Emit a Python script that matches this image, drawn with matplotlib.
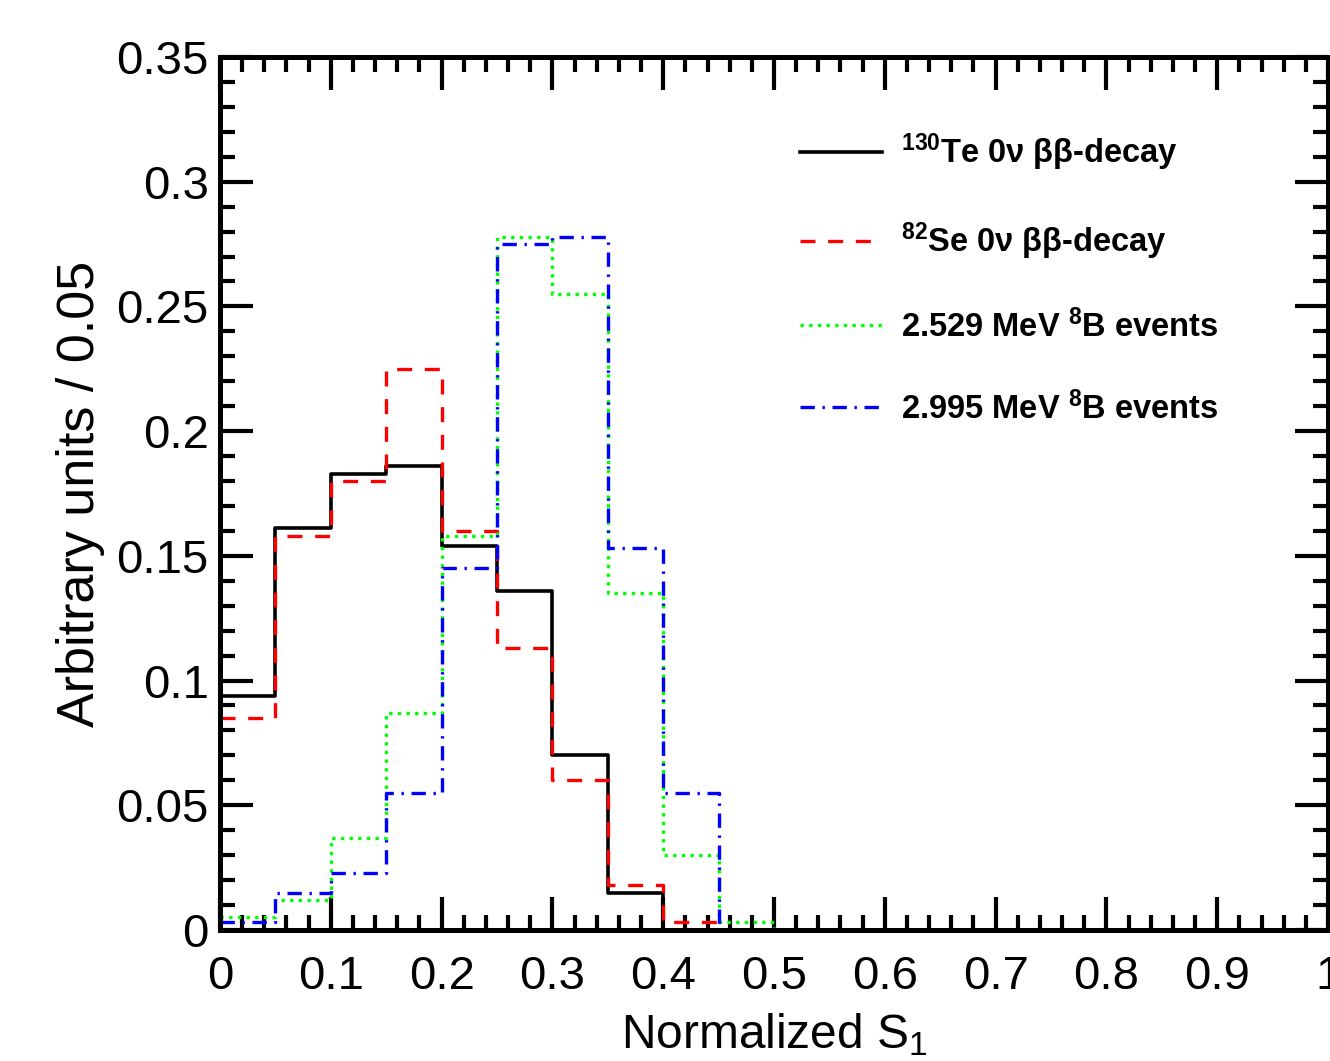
import matplotlib
matplotlib.use("Agg")
import matplotlib.pyplot as plt
import numpy as np

plt.rcParams['font.family'] = ['Liberation Sans', 'DejaVu Sans']
plt.rcParams['mathtext.fontset'] = 'custom'
plt.rcParams['mathtext.rm'] = 'Liberation Sans'
plt.rcParams['mathtext.it'] = 'Liberation Sans:italic'
plt.rcParams['mathtext.bf'] = 'Liberation Sans:bold'

# histogram data, 20 bins of width 0.05 on [0, 1]
bin_edges = np.linspace(0, 1, 21)

te130 = [0.094, 0.161, 0.183, 0.186, 0.154, 0.136, 0.070, 0.015, 0.0, 0.0,
         0, 0, 0, 0, 0, 0, 0, 0, 0, 0]
se82 = [0.085, 0.158, 0.180, 0.225, 0.160, 0.113, 0.060, 0.018, 0.003, 0.0,
        0, 0, 0, 0, 0, 0, 0, 0, 0, 0]
b8_2529 = [0.005, 0.012, 0.037, 0.087, 0.158, 0.278, 0.255, 0.135, 0.030, 0.003,
           0, 0, 0, 0, 0, 0, 0, 0, 0, 0]
b8_2995 = [0.003, 0.015, 0.023, 0.055, 0.145, 0.275, 0.278, 0.153, 0.055, 0.0,
           0, 0, 0, 0, 0, 0, 0, 0, 0, 0]

labels = [r'$^{\mathbf{130}}$Te 0ν ββ-decay',
          r'$^{\mathbf{82}}$Se 0ν ββ-decay',
          r'2.529 MeV $^{\mathbf{8}}$B events',
          r'2.995 MeV $^{\mathbf{8}}$B events']

y_ticks = [0, 0.05, 0.1, 0.15, 0.2, 0.25, 0.3, 0.35]
y_ticklabels = ['0', '0.05', '0.1', '0.15', '0.2', '0.25', '0.3', '0.35']
x_ticks = [0, 0.1, 0.2, 0.3, 0.4, 0.5, 0.6, 0.7, 0.8, 0.9, 1.0]
x_ticklabels = ['0', '0.1', '0.2', '0.3', '0.4', '0.5', '0.6', '0.7', '0.8', '0.9', '1']

fig = plt.figure(figsize=(13.3, 10.61), dpi=100)
ax = fig.add_axes([0.1654, 0.1235, 0.8331, 0.8228])


def step(ax, vals, **kw):
    # draw a histogram outline from bin contents
    y = np.append(vals, vals[-1])
    return ax.step(bin_edges, y, where='post', **kw)[0]


h1 = step(ax, te130, color='black', lw=2.6, label=labels[0])
h2 = step(ax, se82, color='#ff0000', lw=2.4, dashes=(4.5, 3.8), label=labels[1])
h3 = step(ax, b8_2529, color='#00ff00', lw=2.4, dashes=(1, 1.6), label=labels[2])
h4 = step(ax, b8_2995, color='#0000ff', lw=2.4, dashes=(4.3, 2.3, 0.7, 2.3), label=labels[3])

ax.set_xlim(0, 1)
ax.set_ylim(0, 0.35)
ax.set_xticks(x_ticks)
ax.set_xticklabels(x_ticklabels)
ax.set_yticks(y_ticks)
ax.set_yticklabels(y_ticklabels)
ax.set_xticks(np.arange(0, 1.0001, 0.02), minor=True)
ax.set_yticks(np.arange(0, 0.3501, 0.01), minor=True)

ax.tick_params(which='both', direction='in', top=True, right=True, width=3)
ax.tick_params(which='major', length=24, labelsize=34)
ax.tick_params(which='minor', length=11)
ax.tick_params(axis='x', which='major', pad=18)
ax.tick_params(axis='y', which='major', pad=8)
for s in ax.spines.values():
    s.set_linewidth(3.6)

ax.set_xlabel('Normalized S$_1$', fontsize=34.5, labelpad=9)
ax.set_ylabel('Arbitrary units / 0.05', fontsize=37.5, labelpad=8)

ax.legend(handles=[h1, h2, h3, h4], loc='upper left', bbox_to_anchor=(0.497, 0.948),
          frameon=False, prop={'weight': 'bold', 'size': 23.5},
          handlelength=2.5, handletextpad=0.6, labelspacing=1.45, borderpad=0.4)

fig.savefig('out.png', dpi=100)
